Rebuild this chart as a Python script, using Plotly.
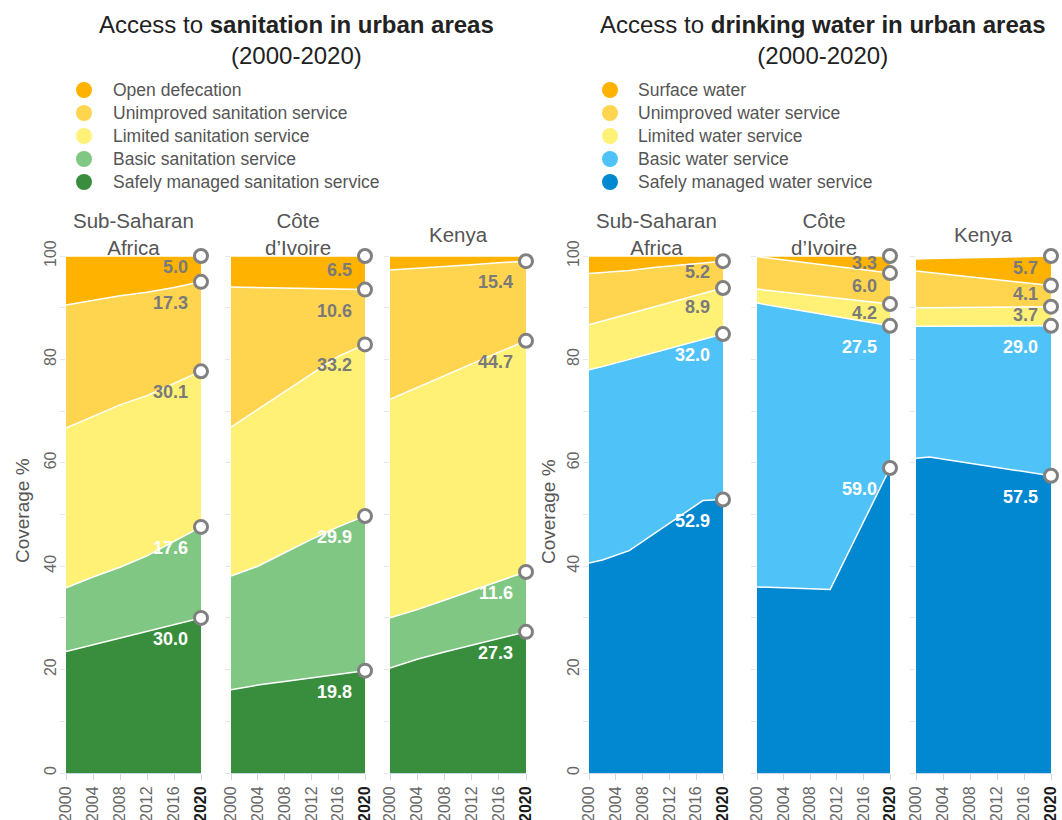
import numpy as np
import plotly.graph_objects as go

# ---------------- data ----------------
SAN_SERIES = ["Open defecation", "Unimproved sanitation service", "Limited sanitation service",
              "Basic sanitation service", "Safely managed sanitation service"]
WAT_SERIES = ["Surface water", "Unimproved water service", "Limited water service",
              "Basic water service", "Safely managed water service"]
REGIONS = ["Sub-Saharan<br>Africa", "Côte<br>d’Ivoire", "Kenya"]

X_TICKS = [2000, 2004, 2008, 2012, 2016, 2020]
X_TICKTEXT = ["2000", "2004", "2008", "2012", "2016", "2020"]
Y_TICKS = [0, 10, 20, 30, 40, 50, 60, 70, 80, 90, 100]
Y_TICKTEXT = ["0", "", "20", "", "40", "", "60", "", "80", "", "100"]

# Sanitation – Sub-Saharan Africa
san_ssa_years = [2000, 2004, 2008, 2012, 2016, 2020]
san_ssa_safely = [23.5, 24.8, 26.0, 27.3, 28.7, 30.0]
san_ssa_basic = [12.3, 13.1, 13.8, 14.7, 16.1, 17.6]
san_ssa_limited = [30.9, 31.1, 31.4, 31.0, 30.6, 30.1]
san_ssa_unimproved = [23.8, 22.4, 21.1, 20.0, 18.5, 17.3]
san_ssa_open = [9.5, 8.6, 7.7, 7.0, 6.1, 5.0]

# Sanitation – Côte d'Ivoire
san_civ_years = [2000, 2004, 2008, 2012, 2016, 2020]
san_civ_safely = [16.1, 17.0, 17.7, 18.4, 19.1, 19.8]
san_civ_basic = [22.0, 23.0, 24.9, 26.8, 28.5, 29.9]
san_civ_limited = [28.8, 30.3, 31.2, 32.0, 33.0, 33.2]
san_civ_unimproved = [27.1, 23.6, 20.0, 16.5, 13.0, 10.6]
san_civ_open = [6.0, 6.1, 6.2, 6.3, 6.4, 6.5]

# Sanitation – Kenya
san_ken_years = [2000, 2004, 2008, 2012, 2016, 2020]
san_ken_safely = [20.3, 22.0, 23.4, 24.7, 26.0, 27.3]
san_ken_basic = [9.7, 9.6, 10.0, 10.6, 11.1, 11.6]
san_ken_limited = [42.3, 43.0, 43.5, 43.8, 44.3, 44.7]
san_ken_unimproved = [25.0, 23.0, 21.1, 19.2, 17.3, 15.4]
san_ken_open = [2.7, 2.4, 2.0, 1.7, 1.3, 1.0]

# Water – Sub-Saharan Africa
wat_ssa_years = [2000, 2002, 2006, 2010, 2013, 2017, 2020]
wat_ssa_safely = [40.6, 41.2, 43.0, 46.5, 49.2, 52.7, 52.9]
wat_ssa_basic = [37.4, 37.4, 37.0, 34.9, 33.3, 31.2, 32.0]
wat_ssa_limited = [8.7, 8.8, 8.8, 8.8, 8.8, 8.8, 8.9]
wat_ssa_unimproved = [9.9, 9.4, 8.4, 7.6, 6.9, 5.9, 5.2]
wat_ssa_surface = [3.4, 3.2, 2.8, 2.2, 1.8, 1.4, 1.0]

# Water – Côte d'Ivoire
wat_civ_years = [2000, 2011, 2020]
wat_civ_safely = [36.0, 35.5, 59.0]
wat_civ_basic = [54.9, 52.9, 27.5]
wat_civ_limited = [2.7, 3.6, 4.2]
wat_civ_unimproved = [6.3, 6.2, 6.0]
wat_civ_surface = [0.1, 1.8, 3.3]

# Water – Kenya
wat_ken_years = [2000, 2002, 2020]
wat_ken_safely = [60.9, 61.1, 57.5]
wat_ken_basic = [25.5, 25.3, 29.0]
wat_ken_limited = [3.6, 3.6, 3.7]
wat_ken_unimproved = [7.1, 6.8, 4.1]
wat_ken_surface = [2.3, 2.7, 5.7]

# ---------------- styles / layout ----------------
W, H = 1062, 820
FONT = "Liberation Sans, Arial, sans-serif"
SAN_COLORS = ["#FFB300", "#FFD54F", "#FFF176", "#81C784", "#388E3C"]
WAT_COLORS = ["#FFB300", "#FFD54F", "#FFF176", "#4FC3F7", "#0288D1"]
LABEL_COLORS = ["#7a7a7a", "#7a7a7a", "#7a7a7a", "#ffffff", "#ffffff"]

SAN_X = [(66, 201), (231, 365), (390, 526)]
WAT_X = [(589, 723), (757, 890), (916, 1051)]
Y_TOP, Y_BOT = 256, 773
PX_PER_UNIT = (Y_BOT - Y_TOP) / 100.0


def xp(px):
    return px / W


def yp(py):
    return 1 - py / H


panels = [
    (SAN_X[0], SAN_SERIES, SAN_COLORS, san_ssa_years,
     [san_ssa_open, san_ssa_unimproved, san_ssa_limited, san_ssa_basic, san_ssa_safely]),
    (SAN_X[1], SAN_SERIES, SAN_COLORS, san_civ_years,
     [san_civ_open, san_civ_unimproved, san_civ_limited, san_civ_basic, san_civ_safely]),
    (SAN_X[2], SAN_SERIES, SAN_COLORS, san_ken_years,
     [san_ken_open, san_ken_unimproved, san_ken_limited, san_ken_basic, san_ken_safely]),
    (WAT_X[0], WAT_SERIES, WAT_COLORS, wat_ssa_years,
     [wat_ssa_surface, wat_ssa_unimproved, wat_ssa_limited, wat_ssa_basic, wat_ssa_safely]),
    (WAT_X[1], WAT_SERIES, WAT_COLORS, wat_civ_years,
     [wat_civ_surface, wat_civ_unimproved, wat_civ_limited, wat_civ_basic, wat_civ_safely]),
    (WAT_X[2], WAT_SERIES, WAT_COLORS, wat_ken_years,
     [wat_ken_surface, wat_ken_unimproved, wat_ken_limited, wat_ken_basic, wat_ken_safely]),
]

fig = go.Figure()
annotations = []
shapes = []
layout_axes = {}

x_ticktext = [t if t != "2020" else '<span style="color:#1a1a1a"><b>2020</b></span>'
              for t in X_TICKTEXT]

for i, (xdom, names, colors, years, series) in enumerate(panels):
    n = i + 1
    xa = "x" if n == 1 else f"x{n}"
    ya = "y" if n == 1 else f"y{n}"
    order = list(range(4, -1, -1))  # bottom (safely managed) -> top
    for k in order:
        fig.add_trace(go.Scatter(
            x=years, y=series[k], name=names[k], mode="lines",
            stackgroup=f"g{n}", fillcolor=colors[k],
            line=dict(color="white", width=1.5, shape="linear"),
            xaxis=xa, yaxis=ya, showlegend=False, hoverinfo="skip"))
    last = np.array([s[-1] for s in series[::-1]])  # bottom -> top
    cum = np.cumsum(last)
    mk_x, mk_y = [], []
    for j, k in enumerate(order):
        val = series[k][-1]
        if val < 2:
            continue
        top = cum[j]
        mk_x.append(years[-1])
        mk_y.append(top)
        seg_px = val * PX_PER_UNIT
        annotations.append(dict(
            x=years[-1], y=top, xref=xa, yref=ya, text=f"<b>{val:.1f}</b>",
            showarrow=False, xanchor="right", yanchor="middle",
            xshift=-11, yshift=-min(21, 0.42 * seg_px),
            font=dict(family=FONT, size=18, color=LABEL_COLORS[k])))
    fig.add_trace(go.Scatter(
        x=mk_x, y=mk_y, mode="markers", xaxis=xa, yaxis=ya, showlegend=False,
        cliponaxis=False, hoverinfo="skip",
        marker=dict(size=13, color="white", line=dict(color="#808080", width=3))))

    first = (i % 3 == 0)
    layout_axes["xaxis" if n == 1 else f"xaxis{n}"] = dict(
        domain=[xp(xdom[0]), xp(xdom[1])], range=[2000, 2020], anchor=ya,
        tickvals=X_TICKS, ticktext=x_ticktext, tickangle=-90,
        tickfont=dict(family=FONT, size=16, color="#666666"),
        ticks="outside", ticklen=6, tickcolor="#ccd6eb",
        showline=True, linecolor="#ccd6eb", linewidth=1,
        showgrid=False, zeroline=False, automargin=False, fixedrange=True)
    layout_axes["yaxis" if n == 1 else f"yaxis{n}"] = dict(
        domain=[yp(Y_BOT), yp(Y_TOP)], range=[0, 100], anchor=xa,
        tickvals=Y_TICKS, ticktext=Y_TICKTEXT, showticklabels=first, tickangle=-90,
        tickfont=dict(family=FONT, size=16, color="#666666"),
        ticks="outside", ticklen=5, tickcolor="#e6e6e6", ticklabelstandoff=-2,
        showgrid=True, gridcolor="#eeeeee", zeroline=False, showline=False,
        automargin=False, fixedrange=True)
    annotations.append(dict(
        x=xp((xdom[0] + xdom[1]) / 2), y=yp(234), xref="paper", yref="paper",
        text=REGIONS[i % 3], showarrow=False, xanchor="center", yanchor="middle",
        font=dict(family=FONT, size=20.5, color="#555555")))

titles = [("Access to <b>sanitation in urban areas</b><br>(2000-2020)", 296, SAN_SERIES, SAN_COLORS, 84, 111, 22),
          ("Access to <b>drinking water in urban areas</b><br>(2000-2020)", 822, WAT_SERIES, WAT_COLORS, 610, 636, 548)]
for text, cx, names, colors, lx, tx, ax in titles:
    annotations.append(dict(
        x=xp(cx), y=yp(40), xref="paper", yref="paper", text=text, showarrow=False,
        xanchor="center", yanchor="middle",
        font=dict(family=FONT, size=24, color="#222222")))
    annotations.append(dict(
        x=xp(ax), y=yp(511), xref="paper", yref="paper", text="Coverage %",
        showarrow=False, textangle=-90, xanchor="center", yanchor="middle",
        font=dict(family=FONT, size=19, color="#555555")))
    for j, (nm, col) in enumerate(zip(names, colors)):
        cy = 90 + 23 * j
        shapes.append(dict(type="circle", xref="paper", yref="paper",
                           x0=xp(lx - 8), x1=xp(lx + 8), y0=yp(cy + 8), y1=yp(cy - 8),
                           fillcolor=col, line=dict(width=0)))
        annotations.append(dict(
            x=xp(tx), y=yp(cy), xref="paper", yref="paper", text=nm, showarrow=False,
            xanchor="left", yanchor="middle",
            font=dict(family=FONT, size=17.5, color="#555555")))

fig.update_layout(
    width=W, height=H, margin=dict(l=0, r=0, t=0, b=0),
    paper_bgcolor="white", plot_bgcolor="white",
    showlegend=False, annotations=annotations, shapes=shapes,
    font=dict(family=FONT), **layout_axes)

fig.write_html("out.html", config={"displayModeBar": False},
               post_script="document.body.style.margin='0px';document.body.style.overflow='hidden';")
